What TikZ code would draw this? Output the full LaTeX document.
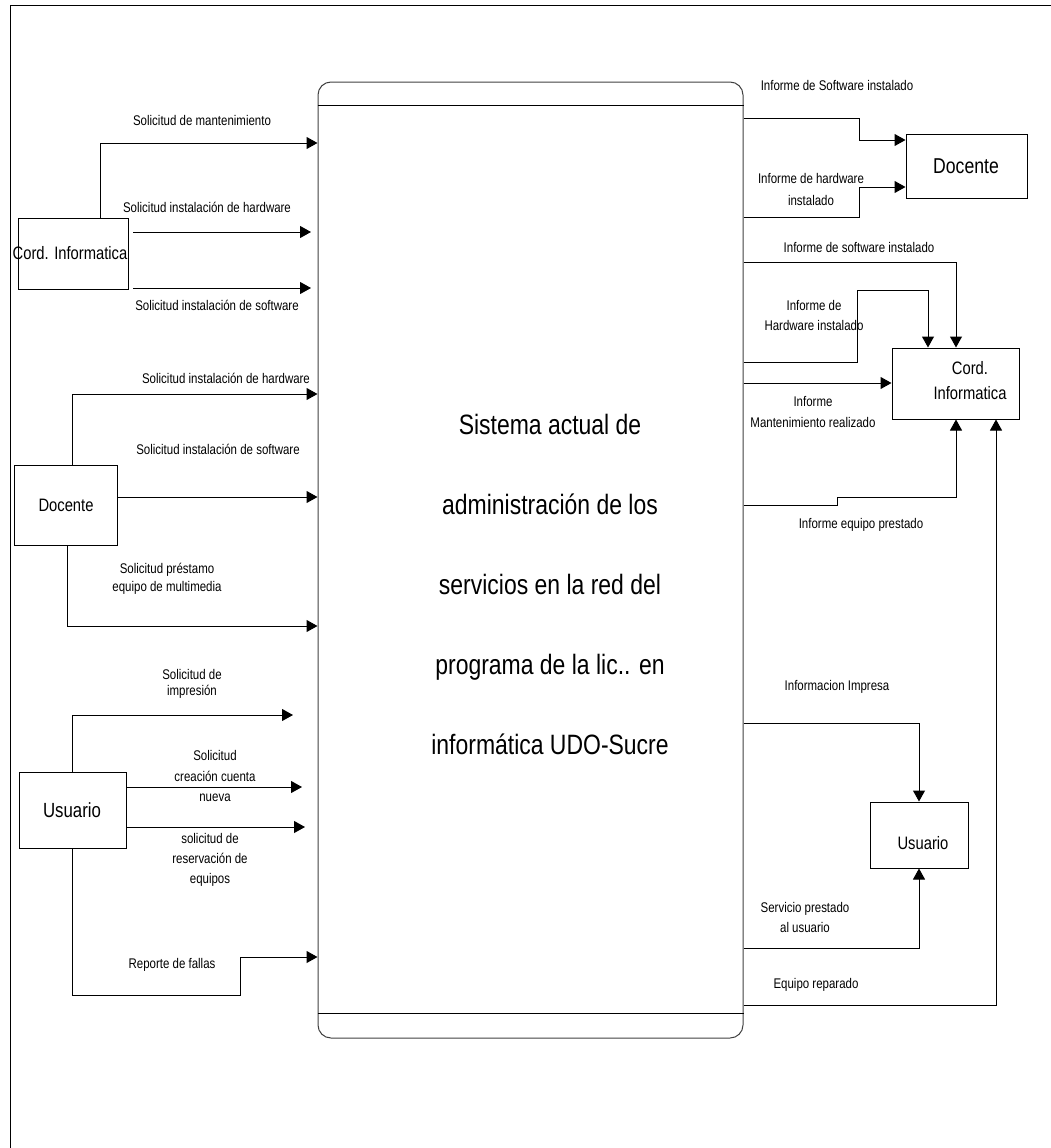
\documentclass[tikz,border=0pt]{standalone}
\usepackage{fontspec}
\setmainfont[FakeStretch=0.82]{Liberation Sans}
\usetikzlibrary{arrows.meta}
\begin{document}
\begin{tikzpicture}[x=1pt,y=-1pt,
  flow/.style={draw=black, line width=1pt, -{Triangle[length=11pt,width=12pt]}},
  entbox/.style={draw=black, line width=1pt, inner sep=0pt},
  enttext/.style={inner sep=0pt, align=center, font=\fontsize{18}{25}\selectfont},
  lbl/.style={inner sep=0pt, align=center, font=\fontsize{14}{19}\selectfont}]
\useasboundingbox (0,0) rectangle (1050,1148);
% outer frame
\draw[line width=1pt] (10,1150) -- (10,6) -- (1052,6);

% central process
\node[draw=black!75, line width=1pt, rounded corners=13pt, minimum width=425pt, minimum height=956pt, inner sep=0pt] (sys) at (530.5,560) {};
\draw[line width=1pt] (sys.west |- 0,105) -- (sys.east |- 0,105);
\draw[line width=1pt] (sys.west |- 0,1013) -- (sys.east |- 0,1013);
\node[inner sep=0pt, align=center, font=\fontsize{28}{80}\selectfont] (systext) at (550,584)
  {Sistema actual de\\administración de los\\servicios en la red del\\programa de la lic.. en\\informática UDO-Sucre};

% left entities
\node[entbox, minimum width=110pt, minimum height=71pt] (lc) at (73,253.5) {};
\node[enttext] (lct) at (70,253) {Cord. Informatica};
\node[entbox, minimum width=103pt, minimum height=80pt] (ld) at (65.5,505) {};
\node[enttext] (ldt) at (66,505) {Docente};
\node[entbox, minimum width=107pt, minimum height=76pt] (lu) at (72.5,810) {};
\node[enttext, font=\fontsize{20.5}{25}\selectfont] (lut) at (72,810) {Usuario};

% right entities
\node[entbox, minimum width=121pt, minimum height=64pt] (rd) at (966.5,166) {};
\node[enttext, font=\fontsize{21.5}{25}\selectfont] (rdt) at (966,166) {Docente};
\node[entbox, minimum width=127pt, minimum height=71pt] (rc) at (955.5,383.5) {};
\node[enttext] (rct) at (970,381) {Cord.\\Informatica};
\node[entbox, minimum width=98pt, minimum height=66pt] (ru) at (919,835) {};
\node[enttext] (rut) at (923,843) {Usuario};

% free ends
\coordinate (e1s) at (133,232); \coordinate (e1e) at (311,232);
\coordinate (e2s) at (133,288); \coordinate (e2e) at (311,288);
\coordinate (e3e) at (293,715);
\coordinate (e4e) at (302,787);
\coordinate (e5e) at (305,827);

% left flows
\draw[flow] (lc.north -| 100,0) |- (sys.west |- 0,143);
\draw[flow] (e1s) -- (e1e);
\draw[flow] (e2s) -- (e2e);
\draw[flow] (ld.north -| 72,0) |- (sys.west |- 0,394);
\draw[flow] (ld.east |- 0,497) -- (sys.west |- 0,497);
\draw[flow] (ld.south -| 67,0) |- (sys.west |- 0,626);
\draw[flow] (lu.north -| 72,0) |- (e3e);
\draw[flow] (lu.east |- 0,787) -- (e4e);
\draw[flow] (lu.east |- 0,827) -- (e5e);
\draw[flow] (lu.south -| 72,0) |- (240,995) |- (sys.west |- 0,957);

% right flows
\draw[flow] (sys.east |- 0,118) -| (859,140) -- (rd.west |- 0,140);
\draw[flow] (sys.east |- 0,217) -| (859,187) -- (rd.west |- 0,187);
\draw[flow] (sys.east |- 0,262) -| (rc.north -| 956,0);
\draw[flow] (sys.east |- 0,362) -| (857,290) -| (rc.north -| 928,0);
\draw[flow] (sys.east |- 0,383) -- (rc.west |- 0,383);
\draw[flow] (sys.east |- 0,505) -| (837,497) -| (rc.south -| 956,0);
\draw[flow] (sys.east |- 0,1005) -| (rc.south -| 996,0);
\draw[flow] (sys.east |- 0,723) -| (ru.north -| 919,0);
\draw[flow] (sys.east |- 0,948) -| (ru.south -| 919,0);

% labels left
\node[lbl] (l1) at (202,120) {Solicitud de mantenimiento};
\node[lbl] (l2) at (207,207) {Solicitud instalación de hardware};
\node[lbl] (l3) at (217,305) {Solicitud instalación de software};
\node[lbl] (l4) at (226,378) {Solicitud instalación de hardware};
\node[lbl] (l5) at (218,449) {Solicitud instalación de software};
\node[lbl, font=\fontsize{14}{18}\selectfont] (l6) at (167,579) {Solicitud préstamo\\equipo de multimedia};
\node[lbl, font=\fontsize{14}{16}\selectfont] (l7) at (192,684) {Solicitud de\\impresión};
\node[lbl, font=\fontsize{14}{20.5}\selectfont] (l8) at (215,776) {Solicitud\\creación cuenta\\nueva};
\node[lbl, font=\fontsize{14}{20}\selectfont] (l9) at (210,860) {solicitud de\\reservación de\\equipos};
\node[lbl] (l10) at (172,965) {Reporte de fallas};

% labels right
\node[lbl] (r1) at (837,85) {Informe de Software instalado};
\node[lbl, font=\fontsize{14}{22}\selectfont] (r2) at (811,189) {Informe de hardware\\instalado};
\node[lbl] (r3) at (859,247) {Informe de software instalado};
\node[lbl, font=\fontsize{14}{20}\selectfont] (r4) at (814,315) {Informe de\\Hardware instalado};
\node[lbl, font=\fontsize{14}{21}\selectfont] (r5) at (813,412) {Informe\\Mantenimiento realizado};
\node[lbl] (r6) at (861,525) {Informe equipo prestado};
\node[lbl] (r7) at (837,687) {Informacion Impresa};
\node[lbl, font=\fontsize{14}{20}\selectfont] (r8) at (805,917) {Servicio prestado\\al usuario};
\node[lbl] (r9) at (816,985) {Equipo reparado};
\end{tikzpicture}
\end{document}
